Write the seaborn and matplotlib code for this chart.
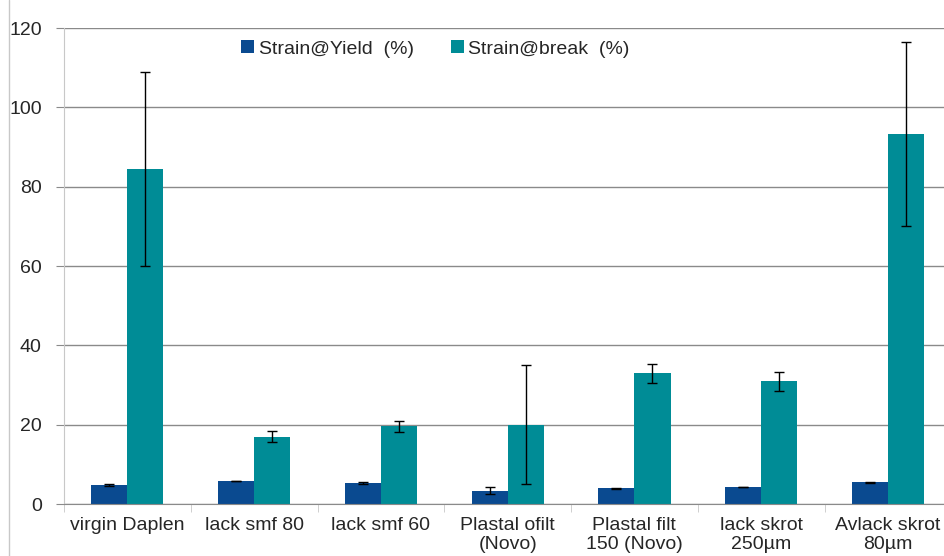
import pandas as pd
import matplotlib
matplotlib.use("Agg")
import matplotlib.pyplot as plt
from matplotlib.lines import Line2D
from matplotlib.ticker import MultipleLocator
import seaborn as sns

# data
categories = ["virgin Daplen", "lack smf 80", "lack smf 60", "Plastal ofilt\n(Novo)",
              "Plastal filt\n150 (Novo)", "lack skrot\n250µm", "Avlack skrot\n80µm"]
yield_vals = [4.8, 5.8, 5.3, 3.3, 4.0, 4.3, 5.5]
yield_err = [0.3, 0.1, 0.15, 0.9, 0.15, 0.1, 0.1]
break_vals = [84.5, 17.0, 19.6, 20.0, 33.0, 30.9, 93.3]
break_err = [24.5, 1.4, 1.4, 15.0, 2.4, 2.5, 23.2]
series = ["Strain@Yield  (%)", "Strain@break  (%)"]

df = pd.DataFrame({
    "cat": categories * 2,
    "val": yield_vals + break_vals,
    "err": yield_err + break_err,
    "series": [series[0]] * len(categories) + [series[1]] * len(categories),
})

sns.set_style("white")
plt.rcParams["font.family"] = ["Liberation Sans", "DejaVu Sans"]

fig = plt.figure(figsize=(9.45, 5.56), dpi=100)
ax = fig.add_axes([0.0677, 0.0935, 0.939, 0.856])

sns.barplot(data=df, x="cat", y="val", hue="series", palette=["#0A4A90", "#008C96"],
            width=0.57, gap=0, errorbar=None, saturation=1, linewidth=0,
            ax=ax, zorder=2)

# error bars placed on the bars seaborn drew
for cont, s in zip(ax.containers, series):
    errs = df[df["series"] == s]["err"].tolist()
    for patch, e in zip(cont.patches, errs):
        ax.errorbar(patch.get_x() + patch.get_width() / 2, patch.get_height(), yerr=e,
                    fmt="none", ecolor="black", elinewidth=1, capsize=3.5, capthick=1, zorder=3)

ax.set_xlim(-0.5, len(categories) - 0.5)
ax.set_ylim(0, 120)
ax.yaxis.set_major_locator(MultipleLocator(20))
ax.grid(axis="y", color="#8a8a8a", linewidth=1)
ax.set_axisbelow(True)
ax.set_xlabel("")
ax.set_ylabel("")

for side in ["top", "right"]:
    ax.spines[side].set_visible(False)
ax.spines["left"].set_color("#c8c8c8")
ax.spines["bottom"].set_color("#8a8a8a")

ax.tick_params(axis="y", labelsize=14, length=6, color="#8a8a8a", pad=10, left=True)
ax.tick_params(axis="x", which="major", labelsize=14, length=0, pad=9)
ax.set_xticks([i - 0.5 for i in range(len(categories) + 1)], minor=True)
ax.tick_params(axis="x", which="minor", length=6, color="#c8c8c8", bottom=True)

ax.legend(loc="center", bbox_to_anchor=(0.461, 0.912), bbox_transform=fig.transFigure,
          ncol=2, frameon=False, fontsize=14, handlelength=0.65, handleheight=0.65,
          handletextpad=0.25, columnspacing=1.9)

# outer chart border on the left
fig.add_artist(Line2D([0.0095, 0.0095], [0, 1], color="#c8c8c8", linewidth=1))

plt.savefig("out.png", dpi=100)
